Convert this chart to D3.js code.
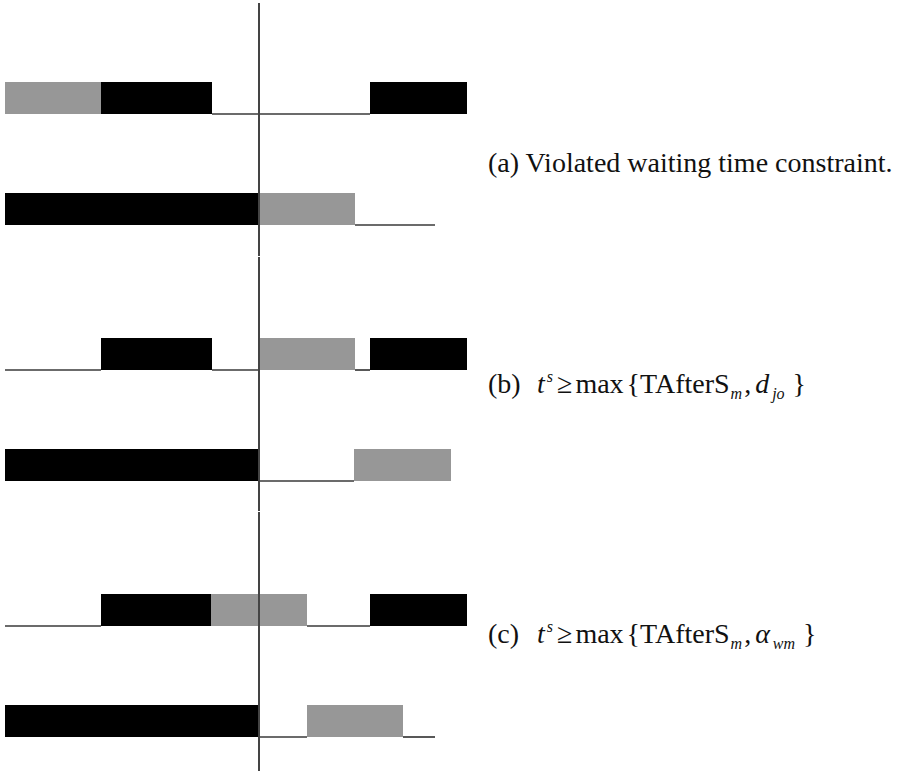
<!DOCTYPE html>
<html>
<head>
<meta charset="utf-8">
<script src="https://cdn.jsdelivr.net/npm/d3@7"></script>
<style>
  html, body { margin: 0; padding: 0; background: #fff; }
  svg { display: block; }
</style>
</head>
<body>
<svg id="chart" width="901" height="771"></svg>
<script>
// ---- Data (time units; 0 = left edge) ----
const panels = ["a", "b", "c"];
const nowTime = 254;          // time of the vertical reference line
const timeExtent = [0, 462];

// each row: list of [start, end, kind]; kind: "busy" (black), "wait" (gray), "idle" (baseline only)
const rowA1 = [[0, 96, "wait"], [96, 207, "busy"], [207, 365, "idle"], [365, 462, "busy"]];
const rowA2 = [[0, 254, "busy"], [254, 350, "wait"], [350, 430, "idle"]];
const rowB1 = [[0, 96, "idle"], [96, 207, "busy"], [207, 254, "idle"], [254, 350, "wait"], [350, 365, "idle"], [365, 462, "busy"]];
const rowB2 = [[0, 254, "busy"], [254, 349, "idle"], [349, 446, "wait"]];
const rowC1 = [[0, 96, "idle"], [96, 206, "busy"], [206, 302, "wait"], [302, 365, "idle"], [365, 462, "busy"]];
const rowC2 = [[0, 254, "busy"], [254, 302, "idle"], [302, 398, "wait"], [398, 430, "idle"]];
const panelRows = [[rowA1, rowA2], [rowB1, rowB2], [rowC1, rowC2]];

const captionA = "(a) Violated waiting time constraint.";
const labelB = "(b)", labelC = "(c)";

// ---- Layout ----
const svg = d3.select("#chart");
const x = d3.scaleLinear().domain(timeExtent).range([5, 467]);
const panelY = d3.scaleLinear().domain([0, 1]).range([0, 256]);
const rowY = d3.scaleLinear().domain([0, 1]).range([114, 225]); // baseline of row within panel
const barH = 32;
const colors = { busy: "#000000", wait: "#979797" };
const lineColor = "#3a3a3a";

panelRows.forEach((rows, pi) => {
  const g = svg.append("g").attr("transform", `translate(0,${panelY(pi)})`);
  rows.forEach((segs, ri) => {
    const base = rowY(ri);
    g.selectAll(null).data(segs.filter(s => s[2] === "idle")).enter().append("line")
      .attr("x1", d => x(d[0])).attr("x2", d => x(d[1]))
      .attr("y1", base).attr("y2", base)
      .attr("stroke", lineColor).attr("stroke-width", 1.7);
    g.selectAll(null).data(segs.filter(s => s[2] !== "idle")).enter().append("rect")
      .attr("x", d => x(d[0])).attr("width", d => x(d[1]) - x(d[0]))
      .attr("y", base - barH).attr("height", barH)
      .attr("fill", d => colors[d[2]]);
  });
});

// vertical "now" line, one segment per panel (tiny breaks between panels)
const vSeg = [[3, 256], [257, 511], [512, 771]];
svg.selectAll("line.now").data(vSeg).enter().append("line")
  .attr("class", "now")
  .attr("x1", x(nowTime)).attr("x2", x(nowTime))
  .attr("y1", d => d[0]).attr("y2", d => d[1])
  .attr("stroke", "#444").attr("stroke-width", 2);

// ---- Captions ----
const font = "'Liberation Serif', 'Times New Roman', serif";
const fs = 28, fsSmall = 16;

svg.append("text")
  .attr("x", 488).attr("y", 172)
  .attr("font-family", font).attr("font-size", fs).attr("fill", "#111")
  .text(captionA);

function formula(yBase, label, lastSym, lastSub) {
  const t = svg.append("text")
    .attr("x", 488).attr("y", yBase)
    .attr("font-family", font).attr("font-size", fs).attr("fill", "#111");
  t.append("tspan").text(label);
  t.append("tspan").attr("x", 537).attr("font-style", "italic").text("t");
  t.append("tspan").attr("font-style", "italic").attr("font-size", fsSmall).attr("dx", 2).attr("dy", -11).text("s");
  t.append("tspan").attr("dx", 4).attr("dy", 11).text("≥");
  t.append("tspan").attr("dx", 3).text("max");
  t.append("tspan").attr("dx", 3).text("{");
  t.append("tspan").text("TAfterS");
  t.append("tspan").attr("font-style", "italic").attr("font-size", fsSmall).attr("dy", 6).attr("dx", 1).text("m");
  t.append("tspan").attr("dy", -6).attr("dx", 2).text(",");
  t.append("tspan").attr("font-style", "italic").attr("dx", 4).text(lastSym);
  t.append("tspan").attr("font-style", "italic").attr("font-size", fsSmall).attr("dy", 6).attr("dx", 3).text(lastSub);
  t.append("tspan").attr("dy", -6).attr("dx", 8).text("}");
}
formula(393, labelB, "d", "jo");
formula(643, labelC, "α", "wm");
</script>
</body>
</html>
